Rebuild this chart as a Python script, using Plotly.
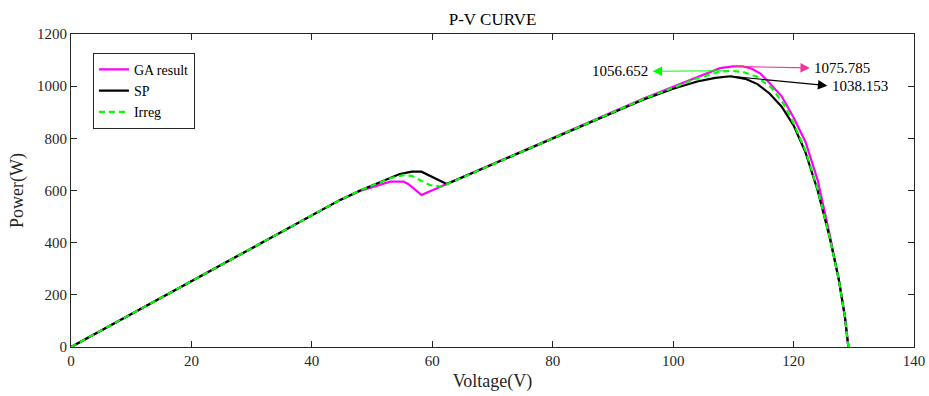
import plotly.graph_objects as go

# ---- data ----
v_ga = [0, 10, 20, 30, 40, 44.7, 48, 50.2, 52, 53, 55.2, 56, 58.2, 62.4, 70, 80, 90, 95, 100, 104,
        107.8, 110, 111.6, 113, 114.5, 116, 118, 120, 122, 124, 125, 126, 127.5, 128.5, 129.1]
p_ga = [0, 126, 252, 378, 504, 564, 598, 615, 628, 634, 634, 625, 583, 625, 700, 800, 900, 952, 998, 1036,
        1069, 1076, 1076, 1068, 1048, 1012, 962, 880, 785, 640, 540, 430, 260, 120, 0]

v_sp = [0, 10, 20, 30, 40, 44.7, 48, 50.2, 52, 54.6, 56.6, 58.2, 62.4, 70, 80, 90, 95, 100, 104, 107,
        109.5, 112, 114, 116, 118, 120, 122, 124, 126, 127.5, 128.5, 129.1]
p_sp = [0, 126, 252, 378, 504, 564, 600, 621, 640, 663, 672, 672, 625, 700, 800, 898, 948, 990, 1018, 1032,
        1038, 1028, 1008, 972, 922, 850, 745, 600, 420, 260, 120, 0]

v_ir = [0, 10, 20, 30, 40, 44.7, 48, 50.2, 53, 55.2, 56.6, 59.6, 61.5, 70, 80, 90, 95, 100, 104, 107.8,
        109.5, 111.5, 113.9, 116.4, 118.3, 120, 122, 124, 126, 127.5, 128.5, 129.1]
p_ir = [0, 126, 252, 378, 504, 564, 600, 621, 647, 659, 656, 621, 615, 700, 800, 899, 950, 994, 1030, 1056,
        1059, 1055, 1036, 992, 934, 858, 752, 605, 420, 260, 120, 0]

series_names = ["GA result", "SP", "Irreg"]
peak_labels = ["1075.785", "1038.153", "1056.652"]

x_ticks = [0, 20, 40, 60, 80, 100, 120, 140]
y_ticks = [0, 200, 400, 600, 800, 1000, 1200]

FONT = "Liberation Serif"
AX = "#262626"

fig = go.Figure()
fig.add_trace(go.Scatter(x=v_ga, y=p_ga, mode="lines", name=series_names[0],
                         line=dict(color="#ff00ff", width=2.2)))
fig.add_trace(go.Scatter(x=v_sp, y=p_sp, mode="lines", name=series_names[1],
                         line=dict(color="#000000", width=2.2)))
fig.add_trace(go.Scatter(x=v_ir, y=p_ir, mode="lines", name=series_names[2],
                         line=dict(color="#00ff00", width=2.2, dash="6px,4px")))

def peak(v, p):
    i = max(range(len(p)), key=lambda k: p[k])
    return v[i], p[i]

ga_pk = peak(v_ga, p_ga)
sp_pk = peak(v_sp, p_sp)
ir_pk = peak(v_ir, p_ir)

annots = []
# (tail at peak, head position, label, colour, text anchor side)
specs = [
    (ga_pk, (122.7, ga_pk[1] - 6), peak_labels[0], "#f2349b", "left"),
    (sp_pk, (125.6, sp_pk[1] - 36), peak_labels[1], "#000000", "left"),
    (ir_pk, (96.6, ir_pk[1] - 2), peak_labels[2], "#00ff00", "right"),
]
for (tx, ty), (hx, hy), lab, col, side in specs:
    annots.append(dict(x=hx, y=hy, ax=tx, ay=ty, xref="x", yref="y", axref="x", ayref="y",
                       text="", showarrow=True, arrowhead=2, arrowsize=1.7, arrowwidth=1.1,
                       arrowcolor=col))
    annots.append(dict(x=hx + (0.4 if side == "left" else -0.4), y=hy, xref="x", yref="y",
                       text=lab, showarrow=False, xanchor=side, yanchor="middle",
                       font=dict(family=FONT, size=15, color="#000000")))

fig.update_layout(
    width=929, height=396,
    margin=dict(l=71, r=15, t=34, b=49, autoexpand=False),
    paper_bgcolor="white", plot_bgcolor="white",
    font=dict(family=FONT, size=15, color="#000000"),
    title=dict(text="P-V CURVE", x=0.5, xref="paper", xanchor="center",
               y=1, yref="paper", yanchor="bottom", pad=dict(b=9),
               font=dict(family=FONT, size=17, color="#000000")),
    legend=dict(x=0.026, y=0.94, xanchor="left", yanchor="top",
                bgcolor="white", bordercolor=AX, borderwidth=1,
                font=dict(family=FONT, size=14, color="#000000"),
                tracegroupgap=0, itemwidth=30),
    annotations=annots,
    showlegend=True,
)
fig.update_xaxes(range=[0, 140], tickvals=x_ticks, ticktext=[str(t) for t in x_ticks],
                 showgrid=False, zeroline=False, showline=True, linecolor=AX, linewidth=1,
                 mirror="ticks", ticks="inside", ticklen=6, tickcolor=AX, automargin=False,
                 tickfont=dict(family=FONT, size=15, color="#262626"),
                 title=dict(text="Voltage(V)", font=dict(family=FONT, size=18, color="#262626"), standoff=6))
fig.update_yaxes(range=[0, 1200], tickvals=y_ticks, ticktext=[str(t) for t in y_ticks],
                 showgrid=False, zeroline=False, showline=True, linecolor=AX, linewidth=1,
                 mirror="ticks", ticks="inside", ticklen=6, tickcolor=AX, automargin=False,
                 tickfont=dict(family=FONT, size=15, color="#262626"),
                 title=dict(text="Power(W)", font=dict(family=FONT, size=18, color="#262626"), standoff=8))

fig.write_html("out.html")
